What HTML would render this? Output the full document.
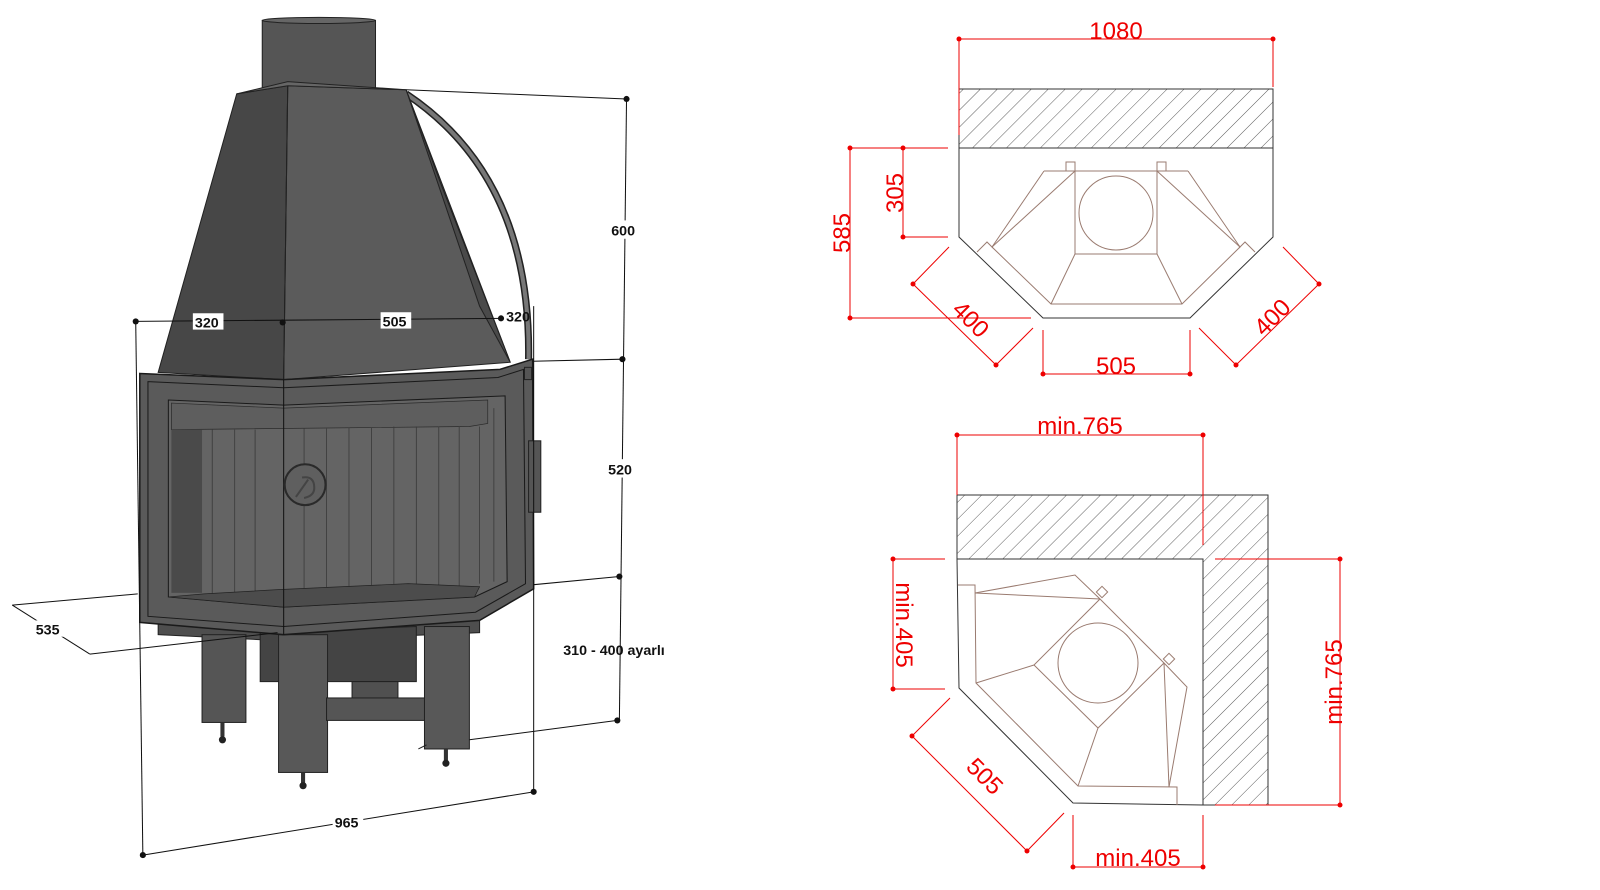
<!DOCTYPE html>
<html><head><meta charset="utf-8"><style>
html,body{margin:0;padding:0;background:#fff;}
svg{display:block;}
.lb{font-family:"Liberation Sans",Arial,sans-serif;font-weight:bold;font-size:14px;fill:#111;}
.rt{font-family:"Liberation Sans",Arial,sans-serif;font-size:24px;fill:#e00;}
</style></head><body>
<svg width="1600" height="890" viewBox="0 0 1600 890" xmlns="http://www.w3.org/2000/svg">
<defs>
<pattern id="h" patternUnits="userSpaceOnUse" width="12" height="12" patternTransform="rotate(45)">
<line x1="0" y1="0" x2="0" y2="12" stroke="#333" stroke-width="0.8"/>
</pattern>
</defs>

<!-- LEFT: fireplace (overview coords scaled) -->
<g transform="scale(1.0204)">
<!-- flue -->
<rect x="257" y="20" width="111" height="68" fill="#555" stroke="#222"/>
<ellipse cx="312.5" cy="20" rx="55.5" ry="3" fill="#666" stroke="#222"/>
<!-- pipe -->
<path d="M398,92 C470,140 520,220 518,352" fill="none" stroke="#222" stroke-width="7"/>
<path d="M398,92 C470,140 520,220 518,352" fill="none" stroke="#777" stroke-width="4"/>
<!-- hood -->
<polygon points="232,92 282,84 278,372 155,365" fill="#474747" stroke="#222"/>
<polygon points="282,84 398,88 500,355 278,372" fill="#5b5b5b" stroke="#222"/>
<polygon points="398,88 432,180 500,355 470,300" fill="#4a4a4a" stroke="#222"/>
<polygon points="232,92 282,84 398,88 282,80" fill="#666" stroke="#222"/>
<line x1="282" y1="84" x2="278" y2="372" stroke="#222"/>
<!-- plinth & legs -->
<polygon points="155,610 470,600 470,620 278,628 155,622" fill="#4e4e4e" stroke="#222"/>
<polygon points="255,620 408,614 408,668 255,668" fill="#444" stroke="#222"/>
<rect x="345" y="668" width="45" height="25" fill="#505050" stroke="#222"/>
<rect x="198" y="622" width="43" height="86" fill="#555" stroke="#222"/>
<rect x="273" y="622" width="48" height="135" fill="#585858" stroke="#222"/>
<rect x="320" y="684" width="98" height="22" fill="#555" stroke="#222"/>
<rect x="416" y="614" width="44" height="120" fill="#585858" stroke="#222"/>
<line x1="418" y1="730" x2="410" y2="734" stroke="#222"/>
<rect x="216" y="708" width="4" height="14" fill="#333"/><circle cx="218" cy="725" r="3.5" fill="#222"/>
<rect x="295" y="757" width="4" height="12" fill="#333"/><circle cx="297" cy="770" r="3.5" fill="#222"/>
<rect x="435" y="734" width="4" height="12" fill="#333"/><circle cx="437" cy="748" r="3.5" fill="#222"/>
<!-- body -->
<polygon points="137,366 278,372 490,362 522,352 523,577 470,608 278,622 137,610" fill="#5a5a5a" stroke="#1a1a1a" stroke-width="1.5"/>
<polygon points="145,374 278,380 488,370 513,362 515,572 466,600 278,614 145,604" fill="none" stroke="#1a1a1a"/>
<polygon points="165,392 278,397 495,388 497,570 465,585 278,595 165,585" fill="#646464" stroke="#1a1a1a"/>
<polygon points="168,395 278,400 478,392 478,415 460,418 168,421" fill="#5e5e5e" stroke="#2a2a2a" stroke-width="0.7"/>
<rect x="168" y="421" width="30" height="160" fill="#4a4a4a"/>
<g stroke="#3a3a3a" stroke-width="0.8">
<line x1="208" y1="421" x2="208" y2="583"/><line x1="230" y1="421" x2="230" y2="585"/><line x1="250" y1="421" x2="250" y2="585"/>
<line x1="298" y1="420" x2="298" y2="590"/><line x1="320" y1="420" x2="320" y2="588"/><line x1="342" y1="419" x2="342" y2="586"/>
<line x1="364" y1="419" x2="364" y2="584"/><line x1="386" y1="418" x2="386" y2="582"/><line x1="408" y1="418" x2="408" y2="580"/>
<line x1="430" y1="418" x2="430" y2="578"/><line x1="450" y1="418" x2="450" y2="576"/><line x1="470" y1="418" x2="470" y2="572"/>
<line x1="484" y1="400" x2="484" y2="570"/>
</g>
<polygon points="200,582 270,578 400,572 470,575 465,585 278,595 165,585" fill="#4c4c4c" stroke="#222" stroke-width="0.7"/>
<line x1="278" y1="372" x2="278" y2="622" stroke="#111"/>
<circle cx="299" cy="475" r="20" fill="#5f5f5f" stroke="#2a2a2a" stroke-width="2"/>
<path d="M290,487 L302,470 M296,468 q12,-2 12,10 q0,8 -10,10" fill="none" stroke="#444" stroke-width="2"/>
<rect x="518" y="432" width="12" height="70" fill="#555" stroke="#222"/>
<rect x="514" y="360" width="7" height="12" fill="#555" stroke="#222"/>

<!-- dimensions -->
<g stroke="#111" stroke-width="1" fill="none">
<line x1="398" y1="88" x2="614" y2="97"/>
<line x1="614" y1="97" x2="607" y2="706"/>
<line x1="522" y1="354" x2="610" y2="352"/>
<line x1="523" y1="573" x2="607" y2="565"/>
<line x1="460" y1="725" x2="605" y2="706"/>
<line x1="133" y1="315" x2="491" y2="312"/>
<line x1="133" y1="315" x2="140" y2="838"/>
<line x1="523" y1="300" x2="523" y2="776"/>
<line x1="140" y1="838" x2="523" y2="776"/>
<line x1="12" y1="593" x2="135" y2="582"/>
<line x1="12" y1="593" x2="88" y2="641"/>
<line x1="88" y1="641" x2="272" y2="620"/>
</g>
<g fill="#111">
<circle cx="614" cy="97" r="3"/><circle cx="610" cy="352" r="3"/><circle cx="607" cy="565" r="3"/><circle cx="605" cy="706" r="3"/>
<circle cx="133" cy="315" r="3"/><circle cx="277" cy="316" r="3"/><circle cx="491" cy="312" r="3"/>
<circle cx="140" cy="838" r="3"/><circle cx="523" cy="776" r="3"/>
</g>
<g class="lb">
<rect x="596" y="216" width="32" height="18" fill="#fff"/><text x="599" y="231">600</text>
<rect x="593" y="450" width="32" height="18" fill="#fff"/><text x="596" y="465">520</text>
<text x="552" y="642">310 - 400 ayarlı</text>
<rect x="189" y="307" width="30" height="16" fill="#fff"/><text x="191" y="321">320</text>
<rect x="373" y="306" width="30" height="16" fill="#fff"/><text x="375" y="320">505</text>
<text x="496" y="315">320</text>
<rect x="326" y="797" width="30" height="16" fill="#fff"/><text x="328" y="811">965</text>
<rect x="33" y="608" width="30" height="16" fill="#fff"/><text x="35" y="622">535</text>
</g>
</g>

<!-- TOP RIGHT plan -->
<g fill="none" stroke-width="1">
<rect x="959" y="89" width="314" height="59" fill="url(#h)" stroke="#333"/>
<polyline points="959,148 959,237 1043,318 1190,318 1273,237 1273,148" stroke="#333"/>
<g stroke="#9a7b70">
<line x1="1044" y1="171" x2="1188" y2="171"/>
<rect x="1066" y="162" width="9" height="9"/><rect x="1157" y="162" width="9" height="9"/>
<polyline points="1044,171 992,247 1051,304 1182,304 1240,247 1188,171"/>
<line x1="1075" y1="171" x2="992" y2="247"/><line x1="1157" y1="171" x2="1240" y2="247"/>
<rect x="1075" y="171" width="82" height="83"/>
<line x1="1075" y1="254" x2="1051" y2="304"/><line x1="1157" y1="254" x2="1182" y2="304"/>
<circle cx="1116" cy="213" r="37"/>
<polyline points="977,252 987,242 993,248"/><polyline points="1255,252 1245,242 1239,248"/>
</g>
<g stroke="#e00">
<line x1="959" y1="39" x2="1273" y2="39"/>
<line x1="959" y1="39" x2="959" y2="135"/><line x1="1273" y1="39" x2="1273" y2="87"/>
<line x1="903" y1="148" x2="903" y2="237"/><line x1="903" y1="148" x2="948" y2="148"/><line x1="903" y1="237" x2="948" y2="237"/>
<line x1="850" y1="148" x2="850" y2="318"/><line x1="850" y1="148" x2="948" y2="148"/><line x1="850" y1="318" x2="1031" y2="318"/>
<line x1="913" y1="284" x2="996" y2="365"/><line x1="913" y1="284" x2="949" y2="247"/><line x1="996" y1="365" x2="1033" y2="328"/>
<line x1="1319" y1="284" x2="1236" y2="365"/><line x1="1319" y1="284" x2="1283" y2="247"/><line x1="1236" y1="365" x2="1199" y2="328"/>
<line x1="1043" y1="374" x2="1190" y2="374"/><line x1="1043" y1="330" x2="1043" y2="374"/><line x1="1190" y1="330" x2="1190" y2="374"/>
</g>
</g>
<g fill="#e00">
<circle cx="959" cy="39" r="2.5"/><circle cx="1273" cy="39" r="2.5"/>
<circle cx="903" cy="148" r="2.5"/><circle cx="903" cy="237" r="2.5"/>
<circle cx="850" cy="148" r="2.5"/><circle cx="850" cy="318" r="2.5"/>
<circle cx="913" cy="284" r="2.5"/><circle cx="996" cy="365" r="2.5"/>
<circle cx="1319" cy="284" r="2.5"/><circle cx="1236" cy="365" r="2.5"/>
<circle cx="1043" cy="374" r="2.5"/><circle cx="1190" cy="374" r="2.5"/>
</g>
<g class="rt" text-anchor="middle">
<text x="1116" y="39">1080</text>
<text transform="translate(903,193) rotate(-90)">305</text>
<text transform="translate(850,233) rotate(-90)">585</text>
<text transform="translate(965,325) rotate(45)">400</text>
<text transform="translate(1278,323) rotate(-45)">400</text>
<text x="1116" y="374">505</text>
</g>

<!-- BOTTOM RIGHT plan -->
<g fill="none" stroke-width="1">
<polygon points="957,495 1268,495 1268,805 1203,805 1203,559 957,559" fill="url(#h)" stroke="#333"/>
<polyline points="957,559 959,688 1073,803 1203,805" stroke="#333"/>
<g stroke="#9a7b70">
<polyline points="958,585 975,585 976,683 1078,786 1177,787 1177,805"/>
<polyline points="975,593 1075,575 1100,599"/>
<line x1="975" y1="593" x2="1100" y2="599"/>
<polygon points="1100,599 1164,663 1098,728 1034,665"/>
<rect x="1098" y="588" width="8" height="8" transform="rotate(45 1102 592)"/>
<rect x="1165" y="655" width="8" height="8" transform="rotate(45 1169 659)"/>
<circle cx="1098" cy="663" r="40"/>
<line x1="1034" y1="665" x2="976" y2="683"/>
<line x1="1098" y1="728" x2="1078" y2="786"/>
<polyline points="1164,663 1187,687 1169,787"/>
<line x1="1164" y1="663" x2="1169" y2="787"/>
</g>
<g stroke="#e00">
<line x1="957" y1="435" x2="1203" y2="435"/>
<line x1="957" y1="435" x2="957" y2="495"/><line x1="1203" y1="435" x2="1203" y2="545"/>
<line x1="893" y1="559" x2="893" y2="689"/><line x1="893" y1="559" x2="945" y2="559"/><line x1="893" y1="689" x2="945" y2="689"/>
<line x1="912" y1="736" x2="1027" y2="851"/><line x1="912" y1="736" x2="950" y2="698"/><line x1="1027" y1="851" x2="1064" y2="813"/>
<line x1="1073" y1="867" x2="1203" y2="867"/><line x1="1073" y1="815" x2="1073" y2="867"/><line x1="1203" y1="815" x2="1203" y2="867"/>
<line x1="1340" y1="559" x2="1340" y2="805"/><line x1="1215" y1="559" x2="1340" y2="559"/><line x1="1215" y1="805" x2="1340" y2="805"/>
</g>
</g>
<g fill="#e00">
<circle cx="957" cy="435" r="2.5"/><circle cx="1203" cy="435" r="2.5"/>
<circle cx="893" cy="559" r="2.5"/><circle cx="893" cy="689" r="2.5"/>
<circle cx="912" cy="736" r="2.5"/><circle cx="1027" cy="851" r="2.5"/>
<circle cx="1073" cy="867" r="2.5"/><circle cx="1203" cy="867" r="2.5"/>
<circle cx="1340" cy="559" r="2.5"/><circle cx="1340" cy="805" r="2.5"/>
</g>
<g class="rt" text-anchor="middle">
<text x="1080" y="434">min.765</text>
<text transform="translate(896,625) rotate(90)">min.405</text>
<text transform="translate(979,782) rotate(45)">505</text>
<text x="1138" y="866">min.405</text>
<text transform="translate(1342,682) rotate(-90)">min.765</text>
</g>
</svg>
</body></html>
